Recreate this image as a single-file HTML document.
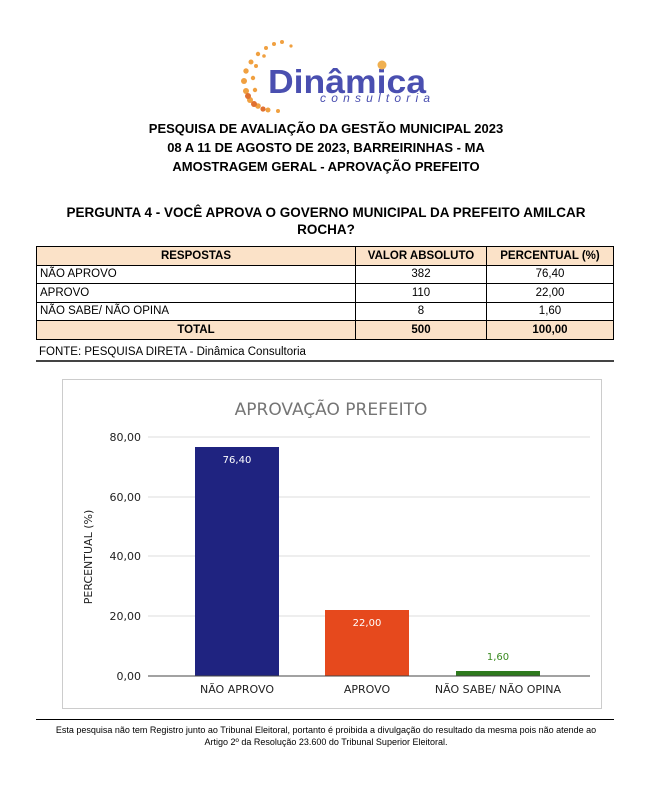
<!DOCTYPE html>
<html><head><meta charset="utf-8"><style>
body{margin:0;width:652px;height:791px;background:#fff;font-family:"Liberation Sans",sans-serif;position:relative;overflow:hidden}
.a{position:absolute}
.t{font-weight:bold;font-size:13px;text-align:center;width:652px;left:0}
table{position:absolute;left:36px;top:246px;width:578px;border-collapse:collapse;font-size:11.5px}
td{border:1px solid #000;height:17.5px;padding:0 3px;text-align:center}
td.l{text-align:left}
tr.h td{background:#fbe2c8;font-weight:bold}
</style></head><body>
<svg class="a" style="left:236px;top:36px" width="200" height="80">
<g fill="#f0a040">
<circle cx="30" cy="12" r="2"/><circle cx="38" cy="8" r="2"/><circle cx="46" cy="6" r="2"/><circle cx="22" cy="18" r="2.2"/><circle cx="15" cy="26" r="2.5"/><circle cx="10" cy="35" r="2.7"/><circle cx="8" cy="45" r="3"/><circle cx="10" cy="55" r="3"/><circle cx="14" cy="64" r="3"/><circle cx="22" cy="70" r="2.8"/><circle cx="32" cy="74" r="2.5"/><circle cx="42" cy="75" r="2"/><circle cx="20" cy="30" r="2"/><circle cx="17" cy="42" r="2.2"/><circle cx="19" cy="54" r="2.2"/><circle cx="28" cy="20" r="1.8"/><circle cx="55" cy="10" r="1.6"/></g>
<g fill="#e07030"><circle cx="12" cy="60" r="3"/><circle cx="18" cy="68" r="3"/><circle cx="27" cy="73" r="2.6"/></g>
<text x="32" y="57" font-family="Liberation Sans" font-weight="bold" font-size="33" textLength="158" lengthAdjust="spacingAndGlyphs" fill="#4a4fb0">Dinâmica</text>
<circle cx="146" cy="29" r="4.5" fill="#f0b050"/>
<text x="84" y="66" font-family="Liberation Sans" font-style="italic" font-size="12" textLength="110" lengthAdjust="spacing" fill="#4a4fb0">consultoria</text>
</svg>
<div class="a t" style="top:121px">PESQUISA DE AVALIAÇÃO DA GESTÃO MUNICIPAL 2023</div>
<div class="a t" style="top:140px">08 A 11 DE AGOSTO DE 2023, BARREIRINHAS - MA</div>
<div class="a t" style="top:159px">AMOSTRAGEM GERAL - APROVAÇÃO PREFEITO</div>
<div class="a t" style="top:205px;font-size:13.5px">PERGUNTA 4 - VOCÊ APROVA O GOVERNO MUNICIPAL DA PREFEITO AMILCAR</div>
<div class="a t" style="top:222px;font-size:13.5px">ROCHA?</div>
<table>
<tr class="h"><td style="width:312px">RESPOSTAS</td><td style="width:124px">VALOR ABSOLUTO</td><td>PERCENTUAL (%)</td></tr>
<tr><td class="l">NÃO APROVO</td><td>382</td><td>76,40</td></tr>
<tr><td class="l">APROVO</td><td>110</td><td>22,00</td></tr>
<tr><td class="l">NÃO SABE/ NÃO OPINA</td><td>8</td><td>1,60</td></tr>
<tr class="h"><td>TOTAL</td><td>500</td><td>100,00</td></tr>
</table>
<div class="a" style="left:39px;top:346px;font-size:11.5px">FONTE: PESQUISA DIRETA - Dinâmica Consultoria</div>
<div class="a" style="left:36px;top:360px;width:578px;border-top:2px solid #444"></div>
<svg class="a" style="left:0;top:0" width="652" height="791">
<rect x="62.5" y="379.5" width="539" height="329" fill="#fff" stroke="#ccc"/>
<text x="331" y="415" text-anchor="middle" font-family="DejaVu Sans" font-size="17" fill="#757575">APROVAÇÃO PREFEITO</text>
<g stroke="#ddd"><line x1="148" x2="590" y1="437" y2="437"/><line x1="148" x2="590" y1="497" y2="497"/><line x1="148" x2="590" y1="556" y2="556"/><line x1="148" x2="590" y1="616" y2="616"/></g>
<g font-family="DejaVu Sans" font-size="11" fill="#222" text-anchor="end"><text x="141" y="441">80,00</text><text x="141" y="501">60,00</text><text x="141" y="560">40,00</text><text x="141" y="620">20,00</text><text x="141" y="680">0,00</text></g>
<text transform="translate(92,557) rotate(-90)" text-anchor="middle" font-family="DejaVu Sans" font-size="11" fill="#222">PERCENTUAL (%)</text>
<rect x="195" y="447" width="84" height="229" fill="#1f2380"/>
<rect x="325" y="610" width="84" height="66" fill="#e6491d"/>
<rect x="456" y="671" width="84" height="5" fill="#2e7a1e"/>
<line x1="148" x2="590" y1="676" y2="676" stroke="#444"/>
<g font-family="DejaVu Sans" font-size="10" text-anchor="middle"><text x="237" y="463" fill="#fff">76,40</text><text x="367" y="626" fill="#fff">22,00</text><text x="498" y="660" fill="#3a8a20">1,60</text></g>
<g font-family="DejaVu Sans" font-size="11" fill="#222" text-anchor="middle"><text x="237" y="693">NÃO APROVO</text><text x="367" y="693">APROVO</text><text x="498" y="693">NÃO SABE/ NÃO OPINA</text></g>
<line x1="36" x2="614" y1="719.5" y2="719.5" stroke="#000"/>
</svg>
<div class="a" style="left:0;width:652px;top:724px;text-align:center;font-size:9px;line-height:12px">Esta pesquisa não tem Registro junto ao Tribunal Eleitoral, portanto é proibida a divulgação do resultado da mesma pois não atende ao<br>Artigo 2º da Resolução 23.600 do Tribunal Superior Eleitoral.</div>
</body></html>
